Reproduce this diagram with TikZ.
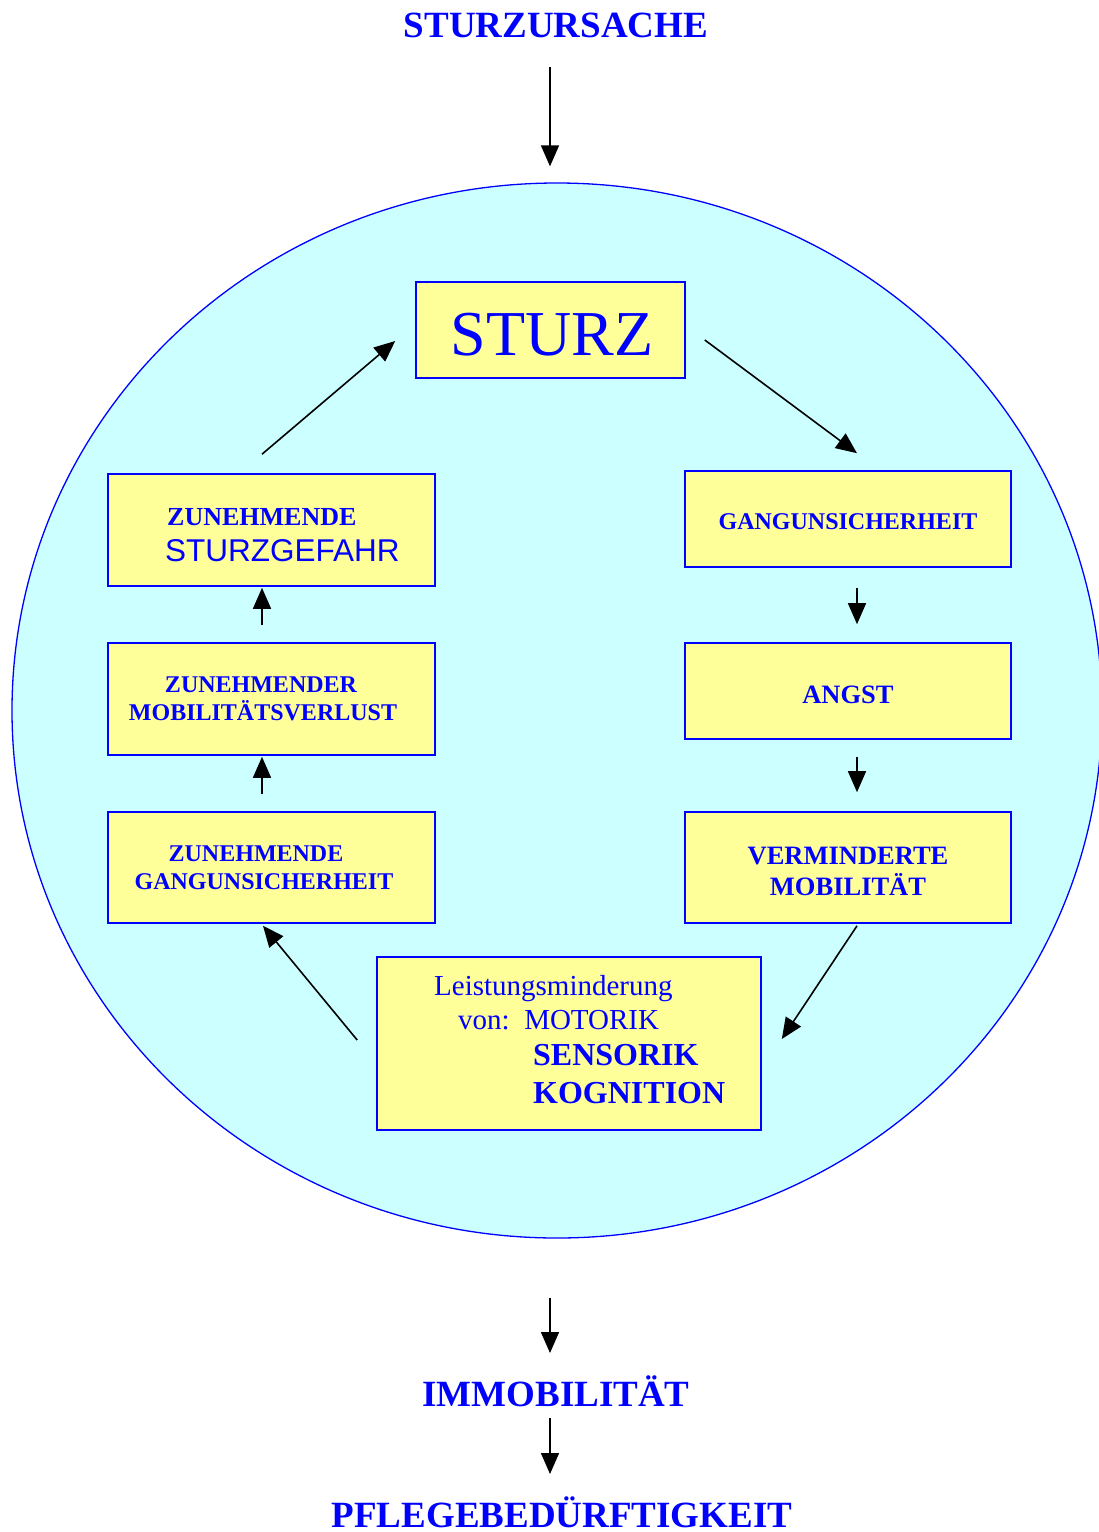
\documentclass[tikz,border=0pt]{standalone}
\usepackage{fontspec}
\setmainfont{Liberation Serif}
\newfontfamily\arialfont{Liberation Sans}
\usetikzlibrary{arrows.meta,shapes.geometric,calc}
\definecolor{dblue}{RGB}{0,0,255}
\definecolor{byellow}{RGB}{255,255,153}
\definecolor{bcyan}{RGB}{204,255,255}
\newcommand{\fs}[1]{\fontsize{#1}{#1}\selectfont}
\tikzset{
  box/.style={draw=dblue, fill=byellow, line width=1.6pt, rectangle, inner sep=0pt},
  arr/.style={-{Triangle[length=21pt,width=18pt]}, line width=1.6pt, black},
  txt/.style={text=dblue, inner sep=0pt, anchor=base},
  txtw/.style={text=dblue, inner sep=0pt, anchor=base west},
}
\begin{document}
\begin{tikzpicture}[x=1pt,y=-1pt]
\useasboundingbox (0,0) rectangle (1099,1532);
\fill[white] (0,0) rectangle (1099,1532);
% circle
\node[ellipse, draw=dblue, fill=bcyan, line width=1.3pt, minimum width=1090pt, minimum height=1055pt, inner sep=0pt] (kreis) at (557,710.5) {};
% titles
\node[txt, font=\fs{37}\bfseries] (ursache) at (556,37) {STURZURSACHE};
\node[txt, font=\fs{37}\bfseries] (immob) at (556,1406) {IMMOBILITÄT};
\node[txt, font=\fs{37}\bfseries] (pflege) at (562,1527) {PFLEGEBEDÜRFTIGKEIT};
% boxes
\node[box, minimum width=269pt, minimum height=96pt] (sturz) at (550.5,330) {};
\node[box, minimum width=326pt, minimum height=96pt] (gang) at (848,519) {};
\node[box, minimum width=326pt, minimum height=96pt] (angst) at (848,691) {};
\node[box, minimum width=326pt, minimum height=111pt] (verm) at (848,867.5) {};
\node[box, minimum width=327pt, minimum height=112pt] (zsg) at (271.5,530) {};
\node[box, minimum width=327pt, minimum height=112pt] (zmv) at (271.5,699) {};
\node[box, minimum width=327pt, minimum height=111pt] (zgu) at (271.5,867.5) {};
\node[box, minimum width=384pt, minimum height=173pt] (leist) at (569,1043.5) {};
% box texts
\node[txt, font=\fs{64}] (tsturz) at (552,355) {STURZ};
\node[txt, font=\fs{24}\bfseries] (tgang) at (848,529) {GANGUNSICHERHEIT};
\node[txt, font=\fs{26.5}\bfseries] (tangst) at (848,703) {ANGST};
\node[txt, font=\fs{26.5}\bfseries] (tverma) at (848,864) {VERMINDERTE};
\node[txt, font=\fs{26.5}\bfseries] (tvermb) at (848,895) {MOBILITÄT};
\node[txtw, font=\fs{26}\bfseries] (tzsga) at (167,525) {ZUNEHMENDE};
\node[txtw, font=\fs{31.5}\arialfont] (tzsgb) at (165,561) {STURZGEFAHR};
\node[txt, font=\fs{24}\bfseries] (tzmva) at (261,692) {ZUNEHMENDER};
\node[txt, font=\fs{24}\bfseries] (tzmvb) at (263,720) {MOBILITÄTSVERLUST};
\node[txt, font=\fs{24}\bfseries] (tzgua) at (256,861) {ZUNEHMENDE};
\node[txt, font=\fs{24}\bfseries] (tzgub) at (264,889) {GANGUNSICHERHEIT};
\node[txtw, font=\fs{29}] (tla) at (434,995) {Leistungsminderung};
\node[txtw, font=\fs{29}] (tlb) at (458,1029) {von:\ \ MOTORIK};
\node[txtw, font=\fs{32}\bfseries] (tlc) at (533,1065) {SENSORIK};
\node[txtw, font=\fs{32}\bfseries] (tld) at (533,1103) {KOGNITION};
% arrows
\draw[arr] ($(kreis.north)+(-7,-115)$) -- ($(kreis.north)+(-7,-16)$);
\draw[arr] ($(zsg.north)+(-9.5,-19)$) -- ($(sturz.west)+(-20,11)$);
\draw[arr] ($(sturz.east)+(19,10)$) -- ($(gang.north)+(9,-17)$);
\draw[arr] ($(gang.south)+(9,20)$) -- ($(angst.north)+(9,-18)$);
\draw[arr] ($(angst.south)+(9,17)$) -- ($(verm.north)+(9,-19)$);
\draw[arr] ($(verm.south)+(9,2)$) -- ($(leist.east)+(20,-4.5)$);
\draw[arr] ($(leist.west)+(-19,-3.5)$) -- ($(zgu.south)+(-8.5,2)$);
\draw[arr] ($(zgu.north)+(-9.5,-17)$) -- ($(zmv.south)+(-9.5,1)$);
\draw[arr] ($(zmv.north)+(-9.5,-17)$) -- ($(zsg.south)+(-9.5,1)$);
\draw[arr] ($(kreis.south)+(-7,59)$) -- ($(immob.base)+(-6,-53)$);
\draw[arr] ($(immob.base)+(-6,12)$) -- ($(pflege.base)+(-12,-53)$);
\end{tikzpicture}
\end{document}
